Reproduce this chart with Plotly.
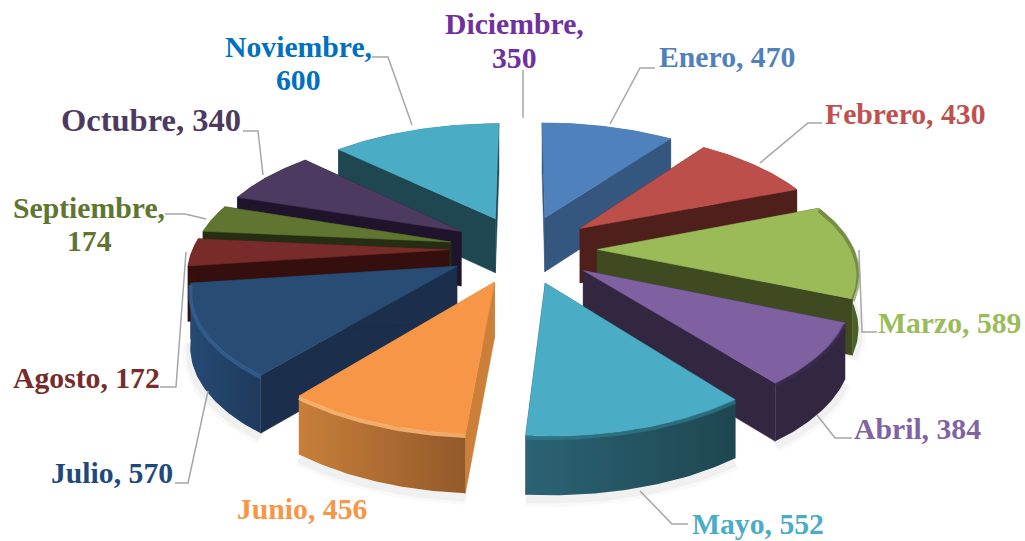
import numpy as np
import plotly.graph_objects as go

months = ["Enero", "Febrero", "Marzo", "Abril", "Mayo", "Junio", "Julio", "Agosto",
          "Septiembre", "Octubre", "Noviembre", "Diciembre"]
values = [470, 430, 589, 384, 552, 456, 570, 172, 174, 340, 600, 350]
# Diciembre has a label and leader but no visible slice in the reference
visible = [True] * 11 + [False]

top_colors = ["#4F81BD", "#BD4F4B", "#9BBB59", "#7F60A0", "#4BACC6", "#F79646",
              "#294C75", "#772C2A", "#5F7530", "#4D3A60", "#4BACC6", "#FFFFFF"]
face_colors = ["#34567F", "#4F1F1C", "#3F4A20", "#322640", "#1F4A56", "#CC7F39",
               "#1B2F4C", "#350F0E", "#252E12", "#1F142C", "#1F4752", "#FFFFFF"]
wall_left = ["#34567F", "#4F1F1C", "#566E2C", "#322640", "#2B6374", "#C87F3A",
             "#264A73", "#350F0E", "#252E12", "#1F142C", "#1F4752", "#FFFFFF"]
wall_right = ["#34567F", "#4F1F1C", "#4A5E26", "#322640", "#1E4651", "#93592A",
              "#1E3A5C", "#350F0E", "#252E12", "#1F142C", "#1F4752", "#FFFFFF"]
rim_colors = [None, None, "rgba(70,90,35,0.45)", "rgba(60,45,85,0.55)", "rgba(50,130,150,0.6)",
              "rgba(253,184,120,0.85)", "rgba(52,96,145,0.8)", None, None, None, None, None]
label_colors = ["#4F81BD", "#C0504D", "#9BBB59", "#8064A2", "#4BACC6", "#F79646", "#1F497D",
                "#772C2A", "#5F7530", "#4D3A60", "#0070C0", "#7030A0"]

label_lines = [("Diciembre,", 514, 24, 11, 29.7), ("350", 514, 58, 11, 29.7), ("Enero, 470", 727, 57, 0, 29.7),
               ("Febrero, 430", 905, 114, 1, 29.7), ("Marzo, 589", 949, 323, 2, 29.7),
               ("Abril, 384", 917, 429, 3, 29.7), ("Mayo, 552", 758, 524, 4, 29.7),
               ("Junio, 456", 302, 509, 5, 29.7), ("Julio, 570", 112, 473, 6, 29.7),
               ("Agosto, 172", 86, 378, 7, 29.7), ("Septiembre,", 89, 208, 8, 29.7), ("174", 89, 241, 8, 29.7),
               ("Octubre, 340", 151, 120, 9, 32.5), ("Noviembre,", 298, 47, 10, 29.7), ("600", 298, 80, 10, 29.7)]
leaders = [[(523, 70), (523, 118)], [(655, 68), (640, 68), (610, 124)], [(822, 123), (808, 123), (760, 163)],
           [(877, 332), (862, 332), (859, 250)], [(852, 438), (835, 438), (817, 415)],
           [(688, 524), (672, 524), (640, 491)], [(175, 483), (188, 483), (208, 391)],
           [(160, 387), (176, 387), (186, 252)], [(165, 214), (185, 214), (206, 219)],
           [(243, 131), (258, 131), (263, 175)], [(372, 57), (388, 57), (412, 125)]]

CX, CY, RX, RY, PERSP, DEPTH, EXPLODE = 523.0, 249.0, 256.0, 118.0, 0.152, 55.0, 0.29
drawn = [v if s else 0 for v, s in zip(values, visible)]
edges = np.cumsum([0] + drawn) / sum(drawn) * 2 * np.pi


def proj(wx, wy, low=False):
    s = 1 / (1 - PERSP * wy)
    px = CX + RX * wx * s
    py = CY + RY * wy * s
    if low:
        py = py + DEPTH * (1 + 0.06 * wy)
    return px, py


def add(fig, xs, ys, color, **kw):
    fig.add_trace(go.Scatter(x=xs, y=ys, mode="lines", fill="toself", fillcolor=color,
                             line=dict(color=color, width=0.5), hoverinfo="skip", showlegend=False, **kw))


def slice_geom(i):
    a0, a1 = edges[i], edges[i + 1]
    mid = (a0 + a1) / 2
    ox, oy = EXPLODE * np.sin(mid), -EXPLODE * np.cos(mid)
    th = np.linspace(a0, a1, 48)
    return th, ox + np.sin(th), oy - np.cos(th), ox, oy


fig = go.Figure()

# soft ground shadow under the front slices
for i in [2, 3, 4, 5, 6]:
    th, wx, wy, ox, oy = slice_geom(i)
    px, py = proj(wx, wy, True)
    for width, alpha in ((16, 0.025), (9, 0.035)):
        fig.add_trace(go.Scatter(x=px, y=py + 4, mode="lines", line=dict(color=f"rgba(0,0,0,{alpha})", width=width),
                                 hoverinfo="skip", showlegend=False))

order = [10, 0, 9, 1, 8, 7, 2, 6, 3, 5, 4]
for i in order:
    th, wx, wy, ox, oy = slice_geom(i)
    ax, ay = proj(ox, oy)
    bx, by = proj(ox, oy, True)
    tx, ty = proj(wx, wy)
    lx, ly = proj(wx, wy, True)
    for k in (0, -1):
        add(fig, [ax, tx[k], lx[k], bx, ax], [ay, ty[k], ly[k], by, ay], face_colors[i])
    wall_x = np.concatenate([tx, lx[::-1], tx[:1]])
    wall_y = np.concatenate([ty, ly[::-1], ty[:1]])
    fig.add_trace(go.Scatter(x=wall_x, y=wall_y, mode="lines", fill="toself", line=dict(width=0),
                             fillgradient=dict(type="horizontal",
                                               colorscale=[[0, wall_left[i]], [1, wall_right[i]]]),
                             hoverinfo="skip", showlegend=False))
    add(fig, np.concatenate([[ax], tx, [ax]]), np.concatenate([[ay], ty, [ay]]), top_colors[i])
    if rim_colors[i]:
        fig.add_trace(go.Scatter(x=tx, y=ty + 2, mode="lines", line=dict(color=rim_colors[i], width=4),
                                 hoverinfo="skip", showlegend=False))

shapes = []
for pts in leaders:
    path = "M " + " L ".join(f"{x},{y}" for x, y in pts)
    shapes.append(dict(type="path", path=path, line=dict(color="#A6A6A6", width=1.5), xref="x", yref="y"))

annotations = [dict(x=x, y=y, text=f"<b>{t}</b>", showarrow=False, xanchor="center", yanchor="middle",
                    font=dict(family="Liberation Serif", size=sz, color=label_colors[c]))
               for t, x, y, c, sz in label_lines]

fig.update_layout(width=1025, height=541, margin=dict(l=0, r=0, t=0, b=0), paper_bgcolor="white",
                  plot_bgcolor="white", showlegend=False, shapes=shapes, annotations=annotations,
                  xaxis=dict(range=[0, 1025], visible=False, fixedrange=True),
                  yaxis=dict(range=[541, 0], visible=False, fixedrange=True))
fig.write_html("out.html", post_script="document.body.style.margin='0';", config={"displayModeBar": False})
